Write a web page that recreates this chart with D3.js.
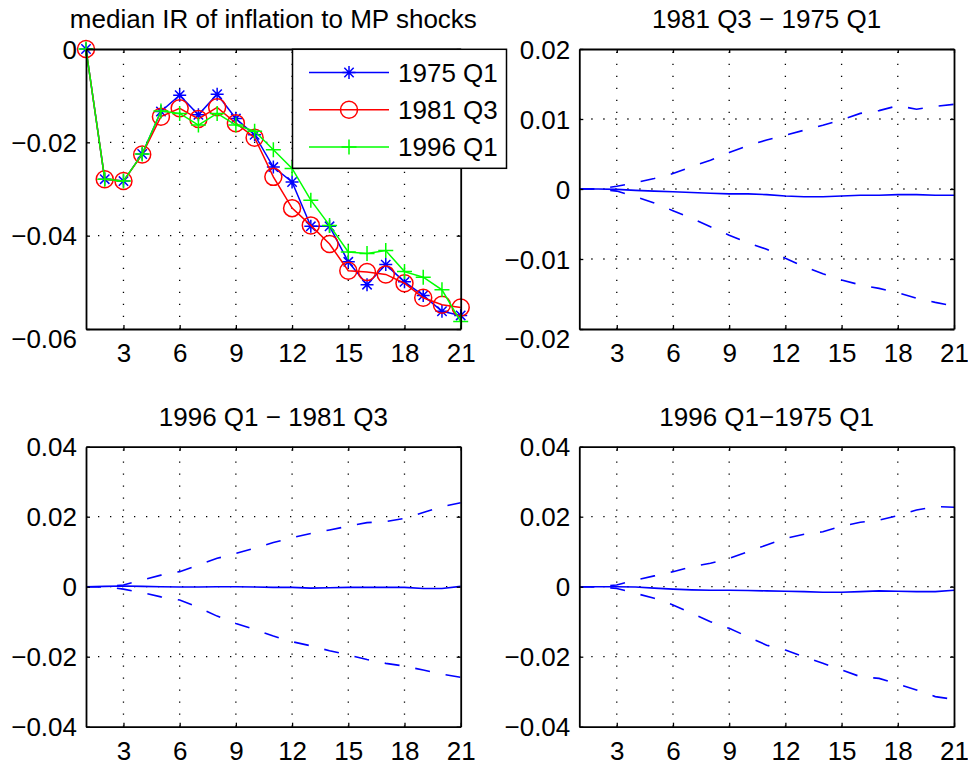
<!DOCTYPE html>
<html><head><meta charset="utf-8">
<script src="https://cdn.jsdelivr.net/npm/d3@7"></script>
<style>body{margin:0;background:#fff}text{font-family:"Liberation Sans",Arial,Helvetica,sans-serif}</style>
</head><body>
<svg id="c" width="968" height="766"></svg>
<script>
// ---------- data ----------
const horizons = [1,2,3,4,5,6,7,8,9,10,11,12,13,14,15,16,17,18,19,20,21];
const xTickValues = [3,6,9,12,15,18,21];

const seriesNames = ["1975 Q1","1981 Q3","1996 Q1"];
const ir1975 = [0,-0.0279,-0.0283,-0.0225,-0.0134,-0.0099,-0.0141,-0.0097,-0.0149,-0.0184,-0.0253,-0.0285,-0.0380,-0.0380,-0.0456,-0.0505,-0.0462,-0.0499,-0.0528,-0.0562,-0.0571];
const ir1981 = [0,-0.0279,-0.0283,-0.0226,-0.0145,-0.0127,-0.0150,-0.0125,-0.0159,-0.0190,-0.0274,-0.0341,-0.0378,-0.0418,-0.0475,-0.0478,-0.0483,-0.0502,-0.0533,-0.0548,-0.0554];
const ir1996 = [0,-0.0279,-0.0283,-0.0225,-0.0133,-0.0138,-0.0163,-0.0138,-0.0163,-0.0176,-0.0216,-0.0256,-0.0324,-0.0378,-0.0435,-0.0438,-0.0432,-0.0477,-0.0489,-0.0516,-0.0584];

const d81_75_hi  = [0,0,0.0004,0.0009,0.0015,0.0022,0.0032,0.0041,0.0052,0.0062,0.0070,0.0077,0.0084,0.0091,0.0099,0.0108,0.0112,0.0119,0.0114,0.0118,0.0121];
const d81_75_med = [0,0,-0.00005,-0.0002,-0.0003,-0.0004,-0.0005,-0.0006,-0.0007,-0.0007,-0.0008,-0.0010,-0.0011,-0.0011,-0.0010,-0.0009,-0.0009,-0.0008,-0.0008,-0.0009,-0.0009];
const d81_75_lo  = [0,0,-0.0003,-0.0011,-0.0020,-0.0031,-0.0042,-0.0054,-0.0066,-0.0077,-0.0086,-0.0099,-0.0111,-0.0121,-0.0130,-0.0137,-0.0142,-0.0148,-0.0156,-0.0162,-0.0167];

const d96_81_hi  = [0,0,0.0005,0.0019,0.0033,0.0043,0.0062,0.0081,0.0095,0.0110,0.0126,0.0140,0.0152,0.0162,0.0173,0.0183,0.0186,0.0195,0.0212,0.0229,0.0240];
const d96_81_med = [0,0.0001,0.0002,0.0001,0,-0.0001,-0.0001,0,0,-0.0001,-0.0002,-0.0002,-0.0004,-0.0003,-0.0002,-0.0002,-0.0002,-0.0002,-0.0005,-0.0005,0.0001];
const d96_81_lo  = [0,0,-0.0007,-0.0017,-0.0029,-0.0038,-0.0059,-0.0084,-0.0105,-0.0122,-0.0141,-0.0157,-0.0169,-0.0183,-0.0195,-0.0208,-0.0219,-0.0227,-0.0238,-0.0250,-0.0259];

const d96_75_hi  = [0,0,0.0005,0.0019,0.0031,0.0043,0.0057,0.0067,0.0081,0.0100,0.0119,0.0138,0.0150,0.0157,0.0173,0.0184,0.0190,0.0203,0.0219,0.0229,0.0227];
const d96_75_med = [0,0,0,-0.0001,-0.0004,-0.0007,-0.0009,-0.0010,-0.0010,-0.0011,-0.0012,-0.0013,-0.0014,-0.0016,-0.0016,-0.0014,-0.0012,-0.0013,-0.0014,-0.0014,-0.0010];
const d96_75_lo  = [0,0,-0.0005,-0.0019,-0.0033,-0.0052,-0.0076,-0.0100,-0.0119,-0.0143,-0.0167,-0.0181,-0.0200,-0.0219,-0.0238,-0.0257,-0.0262,-0.0278,-0.0295,-0.0314,-0.0322];

const yTicksIR = [0,-0.02,-0.04,-0.06];
const yTicksD1 = [0.02,0.01,0,-0.01,-0.02];
const yTicksD2 = [0.04,0.02,0,-0.02,-0.04];

const titles = ["median IR of inflation to MP shocks","1981 Q3 \u2212 1975 Q1","1996 Q1 \u2212 1981 Q3","1996 Q1\u22121975 Q1"];

// ---------- drawing ----------
const svg = d3.select("#c");
const FS = 26;
const fmt = v => v === 0 ? "0" : d3.format(".2f")(v);

function makePanel(box, yDomain, yTicks, title) {
  const x = d3.scaleLinear().domain([1,21]).range([box.l, box.r]);
  const y = d3.scaleLinear().domain(yDomain).range([box.b, box.t]);
  const g = svg.append("g");
  // grid
  const gg = g.append("g").attr("stroke","#000").attr("stroke-width",1.3).attr("stroke-dasharray","1.3,10.7");
  xTickValues.filter(v => v > 1 && v < 21).forEach(v => {
    gg.append("line").attr("x1",x(v)).attr("x2",x(v)).attr("y1",box.b).attr("y2",box.t);
  });
  yTicks.filter(v => v > yDomain[0] && v < yDomain[1]).forEach(v => {
    gg.append("line").attr("x1",box.l).attr("x2",box.r).attr("y1",y(v)).attr("y2",y(v));
  });
  const layer = g.append("g");
  // axes
  const ax = g.append("g");
  const styleAxis = sel => {
    sel.select(".domain").attr("stroke","#000").attr("stroke-width",1.8);
    sel.selectAll(".tick line").attr("stroke","#000").attr("stroke-width",1.3);
    sel.selectAll("text").attr("font-size",FS).attr("fill","#000").style("font-family",'"Liberation Sans",Arial,sans-serif');
  };
  ax.append("g").attr("transform",`translate(0,${box.b})`)
    .call(d3.axisBottom(x).tickValues(xTickValues).tickSizeInner(-4).tickSizeOuter(0).tickPadding(14.5).tickFormat(d3.format("d")))
    .call(styleAxis);
  ax.append("g").attr("transform",`translate(0,${box.t})`)
    .call(d3.axisTop(x).tickValues(xTickValues).tickSizeInner(-4).tickSizeOuter(0).tickFormat(""))
    .call(styleAxis);
  ax.append("g").attr("transform",`translate(${box.l},0)`)
    .call(d3.axisLeft(y).tickValues(yTicks).tickSizeInner(-4).tickSizeOuter(0).tickPadding(9).tickFormat(fmt))
    .call(styleAxis);
  ax.append("g").attr("transform",`translate(${box.r},0)`)
    .call(d3.axisRight(y).tickValues(yTicks).tickSizeInner(-4).tickSizeOuter(0).tickFormat(""))
    .call(styleAxis);
  ax.selectAll(".tick text").attr("dy","0.35em");
  ax.selectAll("g").filter(function(){return this.getAttribute("transform") && this.getAttribute("transform").startsWith("translate(0,"+box.b);})
    .selectAll(".tick text").attr("dy","0.71em");
  // title
  g.append("text").attr("x",(box.l+box.r)/2).attr("y",box.t-21)
    .attr("text-anchor","middle").attr("font-size",FS).attr("fill","#000").text(title);
  return {x,y,layer,g};
}

function marker(sel, type, color) {
  const s = 6.5;
  if (type === "circle") {
    sel.append("circle").attr("r",8.5).attr("fill","none").attr("stroke",color).attr("stroke-width",1.5);
  } else if (type === "star") {
    const d = 0.72*s;
    sel.append("path").attr("d",`M${-s},0H${s}M0,${-s}V${s}M${-d},${-d}L${d},${d}M${-d},${d}L${d},${-d}`)
      .attr("stroke",color).attr("stroke-width",1.5).attr("fill","none");
  } else {
    const p = 7.5;
    sel.append("path").attr("d",`M${-p},0H${p}M0,${-p}V${p}`)
      .attr("stroke",color).attr("stroke-width",1.5).attr("fill","none");
  }
}

const L = 86, R = 460.7, L2 = 579.3, R2 = 954;
const T1 = 49, B1 = 329, T2 = 446.7, B2 = 726.7;

// Panel 1
const p1 = makePanel({l:L,r:R,t:T1,b:B1},[-0.06,0],yTicksIR,titles[0]);
const irSeries = [
  {name:seriesNames[0], vals:ir1975, color:"#0000ff", m:"star"},
  {name:seriesNames[1], vals:ir1981, color:"#ff0000", m:"circle"},
  {name:seriesNames[2], vals:ir1996, color:"#00ff00", m:"plus"}
];
irSeries.forEach(s => {
  const line = d3.line().x((d,i)=>p1.x(horizons[i])).y(d=>p1.y(d));
  p1.layer.append("path").attr("d",line(s.vals)).attr("fill","none").attr("stroke",s.color).attr("stroke-width",1.5);
  s.vals.forEach((v,i) => {
    const mg = p1.layer.append("g").attr("transform",`translate(${p1.x(horizons[i])},${p1.y(v)})`);
    marker(mg, s.m, s.color);
  });
});
// legend (drawn above panel 1)
const leg = p1.g.append("g");
leg.append("rect").attr("x",292.5).attr("y",49.3).attr("width",214).attr("height",119)
  .attr("fill","#fff").attr("stroke","#000").attr("stroke-width",1.5);
irSeries.forEach((s,i) => {
  const yy = 72.5 + i*37.2;
  leg.append("line").attr("x1",309).attr("x2",389).attr("y1",yy).attr("y2",yy).attr("stroke",s.color).attr("stroke-width",1.5);
  marker(leg.append("g").attr("transform",`translate(349,${yy})`), s.m, s.color);
  leg.append("text").attr("x",398).attr("y",yy).attr("dy","0.35em").attr("font-size",FS).attr("fill","#000").text(s.name);
});

function diffPanel(box, yDomain, yTicks, title, hi, med, lo) {
  const p = makePanel(box, yDomain, yTicks, title);
  const line = d3.line().x((d,i)=>p.x(horizons[i])).y(d=>p.y(d));
  [lo, hi].forEach(arr => {
    p.layer.append("path").attr("d",line(arr)).attr("fill","none").attr("stroke","#0000ff")
      .attr("stroke-width",1.6).attr("stroke-dasharray","15,16");
  });
  p.layer.append("path").attr("d",line(med)).attr("fill","none").attr("stroke","#0000ff").attr("stroke-width",1.6);
}
diffPanel({l:L2,r:R2,t:T1,b:B1},[-0.02,0.02],yTicksD1,titles[1],d81_75_hi,d81_75_med,d81_75_lo);
diffPanel({l:L,r:R,t:T2,b:B2},[-0.04,0.04],yTicksD2,titles[2],d96_81_hi,d96_81_med,d96_81_lo);
diffPanel({l:L2,r:R2,t:T2,b:B2},[-0.04,0.04],yTicksD2,titles[3],d96_75_hi,d96_75_med,d96_75_lo);
</script>
</body></html>
